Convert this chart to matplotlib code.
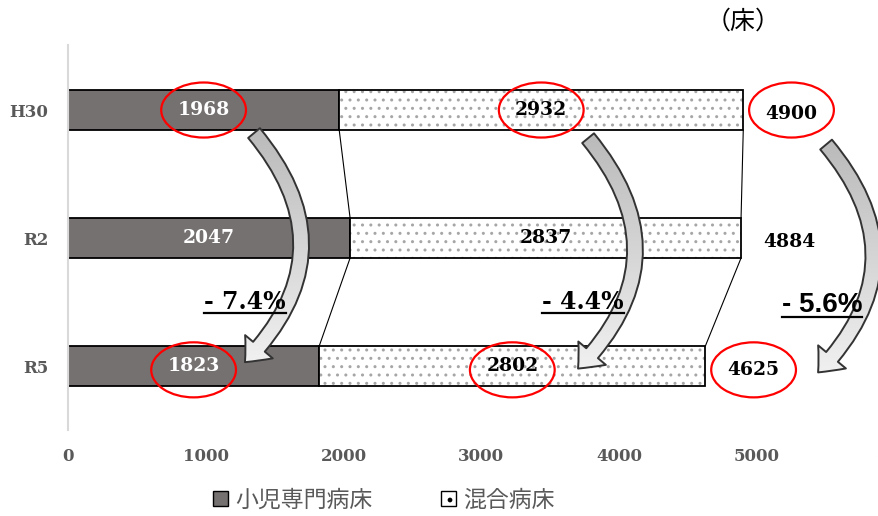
import numpy as np
import matplotlib as mpl
mpl.use('Agg')
import matplotlib.pyplot as plt
from matplotlib.patches import Ellipse, FancyArrowPatch, Patch
from matplotlib.lines import Line2D
from matplotlib.colors import LinearSegmentedColormap
from matplotlib.transforms import IdentityTransform

# data
years = ['H30', 'R2', 'R5']
pediatric = [1968, 2047, 1823]   # 小児専門病床
mixed = [2932, 2837, 2802]       # 混合病床
totals = [4900, 4884, 4625]
changes = ['- 7.4%', '- 4.4%', '- 5.6%']
xticks = [0, 1000, 2000, 3000, 4000, 5000]

plt.rcParams['font.family'] = ['DejaVu Serif']
cjk = ['Noto Sans CJK JP', 'DejaVu Sans']
dark = '#767171'
grey_txt = '#595959'

fig = plt.figure(figsize=(8.79, 5.16), dpi=100)
ax = fig.add_axes([68 / 879, 86 / 516, 811 / 879, 385 / 516])

y = np.arange(len(years))
h = 0.3125
ax.barh(y, pediatric, height=h, color=dark, edgecolor='black', lw=1.3, zorder=2)
ax.barh(y, mixed, left=pediatric, height=h, color='white', edgecolor='#a6a6a6',
        hatch='..', lw=0, zorder=2)
ax.barh(y, mixed, left=pediatric, height=h, facecolor='none', edgecolor='black',
        lw=1.3, zorder=3)

# series lines between bars
for i in range(len(years) - 1):
    for a, b in [(pediatric[i], pediatric[i + 1]), (totals[i], totals[i + 1])]:
        ax.plot([a, b], [y[i] + h / 2, y[i + 1] - h / 2], color='black', lw=0.8, zorder=1)

# value labels
lab_size = 13.5
for i in range(len(years)):
    ax.text(pediatric[i] / 2, y[i], str(pediatric[i]), color='white', fontsize=lab_size,
            fontweight='bold', ha='center', va='center', zorder=4)
    ax.text(pediatric[i] + mixed[i] / 2, y[i], str(mixed[i]), color='black', fontsize=lab_size,
            fontweight='bold', ha='center', va='center', zorder=4)
    ax.text(totals[i] + 350, y[i] + 0.03, str(totals[i]), color='black', fontsize=lab_size,
            fontweight='bold', ha='center', va='center', zorder=4)

# red circles on H30 and R5
for i in [0, 2]:
    dy = 0.03 if i == 2 else 0
    for cx in [pediatric[i] / 2, pediatric[i] + mixed[i] / 2, totals[i] + 350]:
        ax.add_patch(Ellipse((cx, y[i] + dy), width=615, height=0.43, fill=False,
                             ec='red', lw=1.6, zorder=5))

# curved arrows with gradient fill
arrows = [((1350, 0.18), (1284, 1.97)),
          ((3774, 0.22), (3701, 2.02)),
          ((5501, 0.27), (5443, 2.05))]
cmap = LinearSegmentedColormap.from_list('g', ['#b8b8b8', '#f5f5f5'])
grad = np.linspace(0, 1, 256)[:, None]
for (pa, pb) in arrows:
    arr = FancyArrowPatch(pa, pb, connectionstyle='arc3,rad=-0.45',
                          arrowstyle='simple,head_length=15,head_width=26,tail_width=11',
                          mutation_scale=1, shrinkA=0, shrinkB=0,
                          fc='none', ec='#333333', lw=1.4, zorder=7)
    ax.add_patch(arr)
    im = ax.imshow(grad, extent=(pa[0] - 700, pa[0] + 700, pb[1] + 0.15, pa[1] - 0.1),
                   aspect='auto', cmap=cmap, zorder=6, interpolation='bilinear')
    im.set_clip_path(arr)

# percent changes
pct_x = [1285, 3737, 5472]
pct_texts = []
for k, (px, s) in enumerate(zip(pct_x, changes)):
    if k == 2:
        t = ax.text(px, 1.52, s, fontsize=20, family='Liberation Sans', fontweight='bold',
                    ha='center', va='center', zorder=8)
    else:
        t = ax.text(px, 1.5, s, fontsize=17, fontweight='bold',
                    ha='center', va='center', zorder=8)
    pct_texts.append(t)

ax.set_xticks(xticks)
ax.set_xticklabels([str(v) for v in xticks], fontweight='bold', fontsize=12, color=grey_txt)
ax.set_yticks(y)
ax.set_yticklabels(years, fontweight='bold', fontsize=12, color=grey_txt)
ax.tick_params(length=0)
ax.tick_params(axis='x', pad=13)
ax.tick_params(axis='y', pad=14)
for s in ['top', 'right', 'bottom']:
    ax.spines[s].set_visible(False)
ax.spines['left'].set_color('#d9d9d9')
ax.spines['left'].set_linewidth(1.5)
ax.set_xlim(0, 5885)
ax.set_ylim(2.5, -0.508)

fig.text(743 / 879, 1 - 22 / 516, '（床）', family=cjk, fontsize=18, ha='center', va='center')
fig.text(866 / 879, 1 - 470 / 516, '（年度）', family=cjk, fontsize=11, rotation=35,
         ha='left', va='bottom')

handles = [Patch(fc=dark, ec='black', lw=1),
           Patch(fc='white', ec='black', hatch='.', lw=1)]
fig.legend(handles, ['小児専門病床', '混合病床'], loc='center',
           bbox_to_anchor=(384 / 879, 16 / 516), ncol=2, frameon=False,
           prop={'family': cjk, 'size': 16.5}, labelcolor=grey_txt,
           handlelength=0.65, handleheight=0.65, handletextpad=0.3, columnspacing=3.0)

# underline the percentages
fig.canvas.draw()
r = fig.canvas.get_renderer()
for t in pct_texts:
    bb = t.get_window_extent(r)
    fig.add_artist(Line2D([bb.x0, bb.x1], [bb.y0 + 1, bb.y0 + 1], transform=IdentityTransform(),
                          color='black', lw=1.6))

fig.savefig('out.png', dpi=100)
